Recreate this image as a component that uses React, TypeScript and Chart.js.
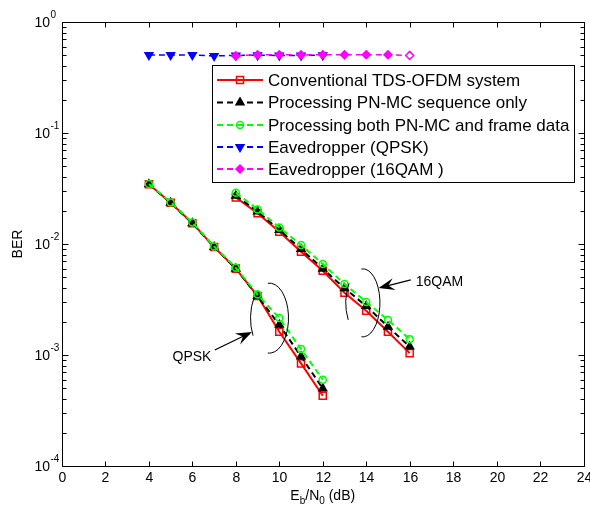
import React, { useEffect, useRef } from 'react';
import { Chart, registerables } from 'chart.js';

Chart.register(...registerables);

// ---------- data ----------
const snrQPSK = [4, 5, 6, 7, 8, 9, 10, 11, 12];
const snr16QAM = [8, 9, 10, 11, 12, 13, 14, 15, 16];

const conventionalQPSK = [0.0345, 0.0235, 0.0154, 0.0094, 0.006, 0.0034, 0.00162, 0.00084, 0.00043];
const pnOnlyQPSK = [0.0345, 0.0235, 0.0154, 0.0094, 0.006, 0.0034, 0.00187, 0.00097, 0.0005];
const bothQPSK = [0.0347, 0.0237, 0.0156, 0.0095, 0.0061, 0.0035, 0.00215, 0.00113, 0.0006];

const conventional16QAM = [0.0263, 0.0189, 0.0129, 0.0085, 0.00575, 0.00364, 0.0025, 0.00162, 0.00104];
const pnOnly16QAM = [0.0272, 0.0196, 0.0134, 0.009, 0.006, 0.004, 0.00276, 0.0018, 0.00119];
const both16QAM = [0.029, 0.0205, 0.0141, 0.0098, 0.0066, 0.00436, 0.003, 0.00207, 0.00139];

const snrEveQPSK = [4, 5, 6, 7, 8, 9, 10, 11, 12];
const eveQPSK = [0.504, 0.504, 0.504, 0.494, 0.5, 0.502, 0.5, 0.5, 0.502];
const snrEve16QAM = [8, 9, 10, 11, 12, 13, 14, 15, 16];
const eve16QAM = [0.495, 0.507, 0.507, 0.505, 0.507, 0.506, 0.507, 0.507, 0.5];

const xTicks = [0, 2, 4, 6, 8, 10, 12, 14, 16, 18, 20, 22, 24];
const yDecades = [-4, -3, -2, -1, 0];

const legendLabels = [
  'Conventional TDS-OFDM system',
  'Processing PN-MC sequence only',
  'Processing both PN-MC and frame data',
  'Eavedropper (QPSK)',
  'Eavedropper (16QAM )',
];

const FONT = '"Liberation Sans", Arial, Helvetica, sans-serif';

const RED = '#ff0000';
const BLACK = '#000000';
const GREEN = '#00ff00';
const BLUE = '#0000ff';
const MAGENTA = '#ff00ff';

type Style = {
  color: string;
  dash: number[];
  marker: 'square' | 'triangle' | 'circle' | 'down' | 'diamond';
  filled: boolean;
};

const styles: Style[] = [
  { color: RED, dash: [], marker: 'square', filled: false },
  { color: BLACK, dash: [6, 4], marker: 'triangle', filled: true },
  { color: GREEN, dash: [6, 4], marker: 'circle', filled: false },
  { color: BLUE, dash: [6, 4], marker: 'down', filled: true },
  { color: MAGENTA, dash: [6, 4], marker: 'diamond', filled: true },
];

const pts = (xs: number[], ys: number[]) => xs.map((x, i) => ({ x, y: ys[i] }));

function markerProps(s: Style) {
  const base: any = {
    pointBorderColor: s.color,
    pointBackgroundColor: s.filled ? s.color : 'rgba(0,0,0,0)',
    pointBorderWidth: 1.5,
  };
  if (s.marker === 'square') return { ...base, pointStyle: 'rect', pointRadius: 5 };
  if (s.marker === 'triangle') return { ...base, pointStyle: 'triangle', pointRadius: 4.5 };
  if (s.marker === 'circle') return { ...base, pointStyle: 'circle', pointRadius: 3.5 };
  if (s.marker === 'down') return { ...base, pointStyle: 'triangle', pointRadius: 4.5, pointRotation: 180 };
  return { ...base, pointStyle: 'rectRot', pointRadius: 4 };
}

function makeDataset(label: string, data: { x: number; y: number }[], s: Style, extra: any = {}) {
  return {
    label,
    data,
    borderColor: s.color,
    backgroundColor: s.color,
    borderWidth: 2,
    borderDash: s.dash,
    fill: false,
    tension: 0,
    ...markerProps(s),
    ...extra,
  };
}

function drawMarker(ctx: CanvasRenderingContext2D, s: Style, x: number, y: number) {
  ctx.save();
  ctx.setLineDash([]);
  ctx.lineWidth = 1.5;
  ctx.strokeStyle = s.color;
  ctx.fillStyle = s.color;
  ctx.beginPath();
  if (s.marker === 'square') {
    ctx.rect(x - 3.5, y - 3.5, 7, 7);
  } else if (s.marker === 'triangle') {
    ctx.moveTo(x, y - 4.5);
    ctx.lineTo(x + 3.9, y + 2.25);
    ctx.lineTo(x - 3.9, y + 2.25);
    ctx.closePath();
  } else if (s.marker === 'down') {
    ctx.moveTo(x, y + 4.5);
    ctx.lineTo(x + 3.9, y - 2.25);
    ctx.lineTo(x - 3.9, y - 2.25);
    ctx.closePath();
  } else if (s.marker === 'circle') {
    ctx.arc(x, y, 3.5, 0, Math.PI * 2);
  } else {
    ctx.moveTo(x - 4, y);
    ctx.lineTo(x, y - 4);
    ctx.lineTo(x + 4, y);
    ctx.lineTo(x, y + 4);
    ctx.closePath();
  }
  if (s.filled) ctx.fill();
  ctx.stroke();
  ctx.restore();
}

// annotation anchors in data coordinates
const ellipseQPSK = { x: 9.55, y: 0.00215, rx: 19, ry: 35 };
const ellipse16QAM = { x: 13.85, y: 0.00295, rx: 17, ry: 34 };
const arrowQPSK = { fromX: 7.03, fromY: 0.00111, toX: 8.74, toY: 0.00161 };
const arrow16QAM = { fromX: 16.05, fromY: 0.00474, toX: 14.57, toY: 0.00402 };
const textQPSK = { x: 5.98, y: 0.00096, text: 'QPSK' };
const text16QAM = { x: 16.28, y: 0.00455, text: '16QAM' };

function drawArrow(ctx: CanvasRenderingContext2D, x1: number, y1: number, x2: number, y2: number) {
  const ang = Math.atan2(y2 - y1, x2 - x1);
  const L = 16;
  const W = 6;
  const bx = x2 - Math.cos(ang) * L;
  const by = y2 - Math.sin(ang) * L;
  ctx.save();
  ctx.lineWidth = 1.3;
  ctx.beginPath();
  ctx.moveTo(x1, y1);
  ctx.lineTo(x2 - Math.cos(ang) * 8, y2 - Math.sin(ang) * 8);
  ctx.stroke();
  ctx.beginPath();
  ctx.moveTo(x2, y2);
  ctx.lineTo(bx + Math.sin(ang) * W, by - Math.cos(ang) * W);
  ctx.lineTo(x2 - Math.cos(ang) * 10, y2 - Math.sin(ang) * 10);
  ctx.lineTo(bx - Math.sin(ang) * W, by + Math.cos(ang) * W);
  ctx.closePath();
  ctx.fill();
  ctx.restore();
}

const decorPlugin = {
  id: 'decor',
  afterDraw(chart: any) {
    const ctx: CanvasRenderingContext2D = chart.ctx;
    const { left, right, top, bottom } = chart.chartArea;
    const xs = chart.scales.x;
    const ys = chart.scales.y;
    ctx.save();
    ctx.setLineDash([]);
    ctx.strokeStyle = '#000';
    ctx.fillStyle = '#000';
    ctx.lineWidth = 1;

    const L = Math.round(left) + 0.5;
    const R = Math.round(right) + 0.5;
    const T = Math.round(top) + 0.5;
    const B = Math.round(bottom) + 0.5;

    // annotations
    const drawEll = (e: any) => {
      const cx = xs.getPixelForValue(e.x);
      const cy = ys.getPixelForValue(e.y);
      ctx.beginPath();
      ctx.ellipse(cx, cy, e.rx, e.ry, 0, (-95 * Math.PI) / 180, (95 * Math.PI) / 180);
      ctx.stroke();
      ctx.beginPath();
      ctx.ellipse(cx, cy, e.rx, e.ry, 0, (150 * Math.PI) / 180, (215 * Math.PI) / 180);
      ctx.stroke();
    };
    drawEll(ellipseQPSK);
    drawEll(ellipse16QAM);
    for (const a of [arrowQPSK, arrow16QAM]) {
      drawArrow(
        ctx,
        xs.getPixelForValue(a.fromX),
        ys.getPixelForValue(a.fromY),
        xs.getPixelForValue(a.toX),
        ys.getPixelForValue(a.toY)
      );
    }
    ctx.font = `14px ${FONT}`;
    ctx.textBaseline = 'middle';
    ctx.textAlign = 'center';
    ctx.fillText(textQPSK.text, xs.getPixelForValue(textQPSK.x), ys.getPixelForValue(textQPSK.y));
    ctx.textAlign = 'left';
    ctx.fillText(text16QAM.text, xs.getPixelForValue(text16QAM.x), ys.getPixelForValue(text16QAM.y));

    // box
    ctx.beginPath();
    ctx.rect(L, T, R - L, B - T);
    ctx.stroke();

    // x ticks
    ctx.font = `14px ${FONT}`;
    ctx.textAlign = 'center';
    ctx.textBaseline = 'middle';
    for (const v of xTicks) {
      const px = Math.round(xs.getPixelForValue(v)) + 0.5;
      ctx.beginPath();
      ctx.moveTo(px, B);
      ctx.lineTo(px, B - 5);
      ctx.moveTo(px, T);
      ctx.lineTo(px, T + 5);
      ctx.stroke();
      ctx.fillText(String(v), px, B + 12);
    }

    // y ticks
    for (const e of yDecades) {
      for (let m = 1; m <= 9; m++) {
        const v = m * Math.pow(10, e);
        if (v > 1.0000001) break;
        const py = Math.round(ys.getPixelForValue(v)) + 0.5;
        const len = m === 1 ? 6 : 4;
        ctx.beginPath();
        ctx.moveTo(L, py);
        ctx.lineTo(L + len, py);
        ctx.moveTo(R, py);
        ctx.lineTo(R - len, py);
        ctx.stroke();
      }
      const py = ys.getPixelForValue(Math.pow(10, e));
      ctx.font = `14px ${FONT}`;
      ctx.textAlign = 'right';
      ctx.textBaseline = 'middle';
      ctx.fillText('10', 50, py + 1);
      ctx.font = `10px ${FONT}`;
      ctx.textAlign = 'left';
      ctx.fillText(String(e), 50.5, py - 7);
    }

    // axis titles
    ctx.save();
    ctx.font = `14px ${FONT}`;
    ctx.textAlign = 'center';
    ctx.textBaseline = 'middle';
    ctx.translate(18, (top + bottom) / 2);
    ctx.rotate(-Math.PI / 2);
    ctx.fillText('BER', 0, 0);
    ctx.restore();

    const parts = [
      { t: 'E', sub: false },
      { t: 'b', sub: true },
      { t: '/N', sub: false },
      { t: '0', sub: true },
      { t: ' (dB)', sub: false },
    ];
    let total = 0;
    for (const p of parts) {
      ctx.font = p.sub ? `10px ${FONT}` : `14px ${FONT}`;
      total += ctx.measureText(p.t).width;
    }
    let cx = (left + right) / 2 - total / 2;
    ctx.textAlign = 'left';
    ctx.textBaseline = 'alphabetic';
    for (const p of parts) {
      ctx.font = p.sub ? `10px ${FONT}` : `14px ${FONT}`;
      ctx.fillText(p.t, cx, p.sub ? 504 : 500);
      cx += ctx.measureText(p.t).width;
    }

    // legend
    const lx = 212.5, ly = 65.5, lw = 362, lh = 117;
    ctx.fillStyle = '#fff';
    ctx.fillRect(lx, ly, lw, lh);
    ctx.strokeStyle = '#000';
    ctx.lineWidth = 1;
    ctx.strokeRect(lx, ly, lw, lh);
    const rowY = [80, 102.5, 125, 147, 169];
    ctx.font = `17px ${FONT}`;
    ctx.textAlign = 'left';
    ctx.textBaseline = 'middle';
    legendLabels.forEach((lab, i) => {
      const s = styles[i];
      const y = rowY[i];
      ctx.save();
      ctx.strokeStyle = s.color;
      ctx.lineWidth = 2;
      ctx.setLineDash(s.dash);
      ctx.beginPath();
      ctx.moveTo(217, y);
      ctx.lineTo(263, y);
      ctx.stroke();
      ctx.restore();
      drawMarker(ctx, s, 240, y);
      ctx.fillStyle = '#000';
      ctx.fillText(lab, 268, y + 1);
    });

    ctx.restore();
  },
};

export default function App() {
  const ref = useRef<HTMLCanvasElement>(null);
  useEffect(() => {
    if (!ref.current) return;
    // Chart.js draws the first dataset on top, so list top-most first
    const datasets: any[] = [
      makeDataset(legendLabels[4], pts(snrEve16QAM, eve16QAM), styles[4], {
        borderWidth: 1.5,
        pointBackgroundColor: snrEve16QAM.map((_, i) => (i === snrEve16QAM.length - 1 ? '#ffffff' : MAGENTA)),
      }),
      makeDataset(legendLabels[3], pts(snrEveQPSK, eveQPSK), styles[3], { borderWidth: 1.5 }),
      makeDataset(legendLabels[2], pts(snr16QAM, both16QAM), styles[2]),
      makeDataset(legendLabels[2], pts(snrQPSK, bothQPSK), styles[2]),
      makeDataset(legendLabels[1], pts(snr16QAM, pnOnly16QAM), styles[1]),
      makeDataset(legendLabels[1], pts(snrQPSK, pnOnlyQPSK), styles[1]),
      makeDataset(legendLabels[0], pts(snr16QAM, conventional16QAM), styles[0]),
      makeDataset(legendLabels[0], pts(snrQPSK, conventionalQPSK), styles[0]),
    ];
    const chart = new Chart(ref.current, {
      type: 'line',
      data: { datasets },
      options: {
        responsive: false,
        animation: false,
        devicePixelRatio: 1,
        layout: { padding: { left: 62, right: 6, top: 22, bottom: 40 } },
        plugins: { legend: { display: false }, tooltip: { enabled: false } },
        scales: {
          x: { type: 'linear', min: 0, max: 24, display: false },
          y: { type: 'logarithmic', min: 1e-4, max: 1, display: false },
        },
      },
      plugins: [decorPlugin],
    });
    return () => chart.destroy();
  }, []);
  return (
    <div style={{ position: 'absolute', left: 0, top: 0, width: 590, height: 506, background: '#fff' }}>
      <canvas ref={ref} width={590} height={506} />
    </div>
  );
}
